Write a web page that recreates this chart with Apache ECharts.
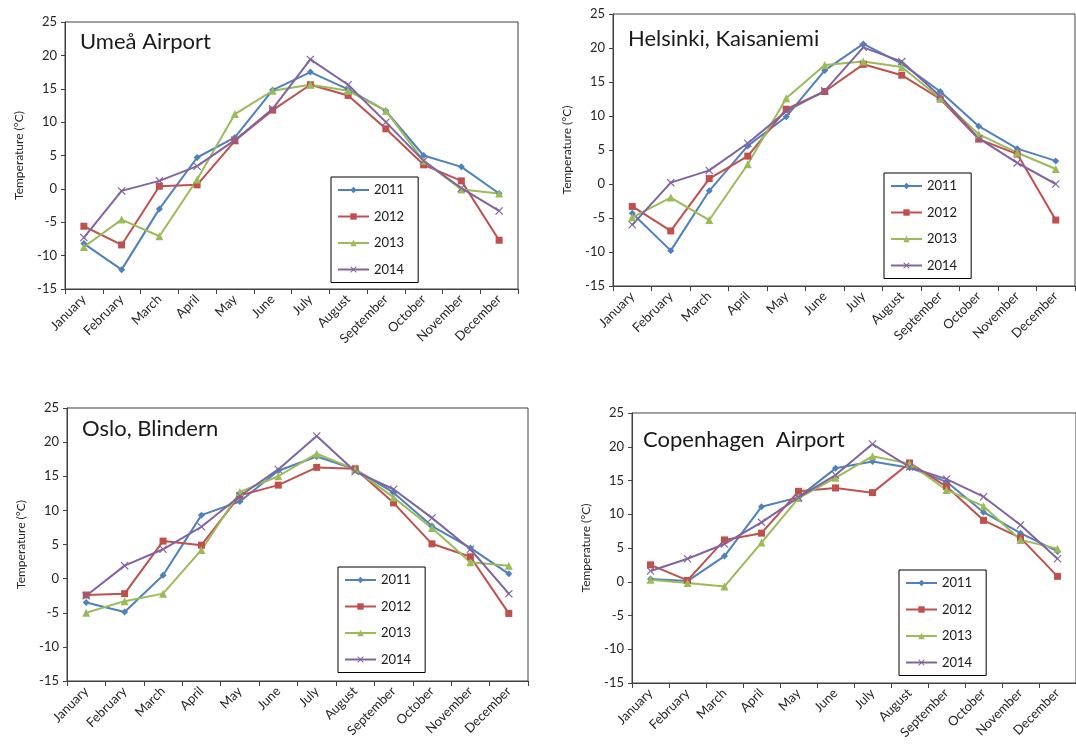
<!DOCTYPE html>
<html>
<head>
<meta charset="utf-8">
<script src="https://cdn.jsdelivr.net/npm/echarts@6/dist/echarts.min.js"></script>
<style>
  html, body { margin: 0; padding: 0; background: #fff; }
  #chart { width: 1076px; height: 746px; }
</style>
</head>
<body>
<div id="chart"></div>
<script>
// Monthly mean temperatures (°C), 2011–2014, for four Nordic stations
const months = ['January', 'February', 'March', 'April', 'May', 'June', 'July',
  'August', 'September', 'October', 'November', 'December'];
const years = ['2011', '2012', '2013', '2014'];
const yTicks = { min: -15, max: 25, step: 5 };

const stationNames = ['Umeå Airport', 'Helsinki, Kaisaniemi', 'Oslo, Blindern', 'Copenhagen  Airport'];

const umea2011 = [-8.2, -12.1, -3.0, 4.7, 7.7, 14.8, 17.5, 14.9, 11.7, 5.0, 3.3, -0.7];
const umea2012 = [-5.6, -8.4, 0.4, 0.6, 7.2, 11.8, 15.6, 14.0, 9.0, 3.6, 1.2, -7.7];
const umea2013 = [-8.7, -4.6, -7.1, 1.4, 11.2, 14.7, 15.6, 14.7, 11.7, 4.2, -0.1, -0.7];
const umea2014 = [-7.3, -0.3, 1.2, 3.4, 7.3, 12.0, 19.4, 15.6, 10.0, 4.2, 0.1, -3.3];

const helsinki2011 = [-4.3, -9.8, -1.0, 5.6, 9.9, 16.7, 20.6, 17.7, 13.6, 8.5, 5.2, 3.4];
const helsinki2012 = [-3.3, -6.9, 0.8, 4.1, 11.0, 13.6, 17.6, 16.0, 12.5, 6.6, 4.4, -5.3];
const helsinki2013 = [-4.9, -2.0, -5.3, 2.9, 12.6, 17.5, 18.0, 17.2, 12.6, 7.3, 4.6, 2.2];
const helsinki2014 = [-6.0, 0.2, 2.0, 6.0, 10.7, 13.7, 20.1, 18.0, 12.9, 6.7, 3.1, 0.0];

const oslo2011 = [-3.5, -4.9, 0.5, 9.3, 11.3, 15.8, 17.9, 16.0, 12.6, 7.7, 4.5, 0.7];
const oslo2012 = [-2.4, -2.2, 5.5, 4.9, 12.2, 13.7, 16.3, 16.1, 11.1, 5.1, 3.2, -5.1];
const oslo2013 = [-5.0, -3.3, -2.2, 4.2, 12.7, 15.0, 18.3, 16.0, 11.9, 7.4, 2.4, 1.9];
const oslo2014 = [-2.5, 1.9, 4.3, 7.6, 12.1, 16.0, 20.9, 15.7, 13.1, 8.9, 4.3, -2.2];

const cph2011 = [0.4, 0.1, 3.8, 11.1, 12.5, 16.8, 17.8, 16.9, 14.8, 10.3, 7.2, 4.5];
const cph2012 = [2.5, 0.2, 6.2, 7.2, 13.4, 13.9, 13.2, 17.6, 14.1, 9.1, 6.5, 0.8];
const cph2013 = [0.3, -0.2, -0.7, 5.8, 12.4, 15.4, 18.6, 17.5, 13.6, 11.2, 6.2, 4.9];
const cph2014 = [1.6, 3.4, 5.6, 8.8, 12.5, 15.8, 20.4, 17.0, 15.2, 12.6, 8.4, 3.4];

const stationData = [
  [umea2011, umea2012, umea2013, umea2014],
  [helsinki2011, helsinki2012, helsinki2013, helsinki2014],
  [oslo2011, oslo2012, oslo2013, oslo2014],
  [cph2011, cph2012, cph2013, cph2014]
];

// Office-style series palette and markers
const colors = ['#4F81BD', '#C0504D', '#9BBB59', '#8064A2'];
const crossPath = 'path://M0,1L1,0L5,4L9,0L10,1L6,5L10,9L9,10L5,6L1,10L0,9L4,5Z';
const symbols = ['diamond', 'rect', 'triangle', crossPath];
const symbolSizes = [7, 7, 8, 8];

const FONT = 'Lato, "Open Sans", sans-serif';
const AXIS_COLOR = '#404040';

// Panel frames: plot rectangle, title anchor and legend anchor
const panels = [
  { grid: { left: 65, top: 22, width: 453, height: 267 }, title: { left: 80, top: 31 }, legend: { left: 331, top: 177 } },
  { grid: { left: 613, top: 14, width: 462, height: 272 }, title: { left: 628, top: 28 }, legend: { left: 884, top: 173 } },
  { grid: { left: 67, top: 408, width: 461, height: 273 }, title: { left: 82, top: 418 }, legend: { left: 338, top: 567 } },
  { grid: { left: 632, top: 413, width: 455, height: 270 }, title: { left: 643, top: 429 }, legend: { left: 899, top: 570 } }
];

const option = {
  backgroundColor: '#fff',
  animation: false,
  textStyle: { fontFamily: FONT },
  title: [], grid: [], xAxis: [], yAxis: [], legend: [], series: []
};

panels.forEach((p, i) => {
  option.grid.push(Object.assign({ show: true, borderColor: AXIS_COLOR, borderWidth: 1, backgroundColor: 'transparent' }, p.grid));

  option.title.push({
    text: stationNames[i],
    left: p.title.left, top: p.title.top, padding: 0,
    textStyle: { fontFamily: FONT, fontSize: 22, fontWeight: 'normal', color: '#1a1a1a' }
  });

  option.xAxis.push({
    type: 'category', gridIndex: i, data: months, boundaryGap: true,
    axisLine: { onZero: false, lineStyle: { color: AXIS_COLOR, width: 1 } },
    axisTick: { show: true, length: 5, inside: false, lineStyle: { color: AXIS_COLOR } },
    axisLabel: { rotate: 45, fontSize: 13, color: '#262626', fontFamily: FONT, margin: 8, interval: 0 },
    splitLine: { show: false }
  });

  option.yAxis.push({
    type: 'value', gridIndex: i, min: yTicks.min, max: yTicks.max, interval: yTicks.step,
    name: 'Temperature (°C)', nameLocation: 'middle', nameRotate: 90, nameGap: 40,
    nameTextStyle: { fontSize: 12, color: '#262626', fontFamily: FONT },
    axisLine: { show: true, lineStyle: { color: AXIS_COLOR, width: 1 } },
    axisTick: { show: true, length: 4, inside: false, lineStyle: { color: AXIS_COLOR } },
    axisLabel: { fontSize: 13, color: '#262626', fontFamily: FONT, margin: 8 },
    splitLine: { show: false }
  });

  option.legend.push({
    orient: 'vertical', left: p.legend.left, top: p.legend.top,
    data: years,
    itemWidth: 31, itemHeight: 8, itemGap: 12.5,
    padding: [6, 14, 6, 6],
    borderColor: '#000', borderWidth: 1, backgroundColor: '#fff',
    textStyle: { fontSize: 13, color: '#1a1a1a', fontFamily: FONT, lineHeight: 14 },
    selectedMode: false
  });

  years.forEach((y, k) => {
    option.series.push({
      name: y, type: 'line', xAxisIndex: i, yAxisIndex: i,
      data: stationData[i][k],
      symbol: symbols[k], symbolSize: symbolSizes[k], showSymbol: true,
      lineStyle: { color: colors[k], width: 2 },
      itemStyle: { color: colors[k] },
      emphasis: { disabled: true }
    });
  });
});

const chart = echarts.init(document.getElementById('chart'), null, { renderer: 'canvas' });
chart.setOption(option);
</script>
</body>
</html>
